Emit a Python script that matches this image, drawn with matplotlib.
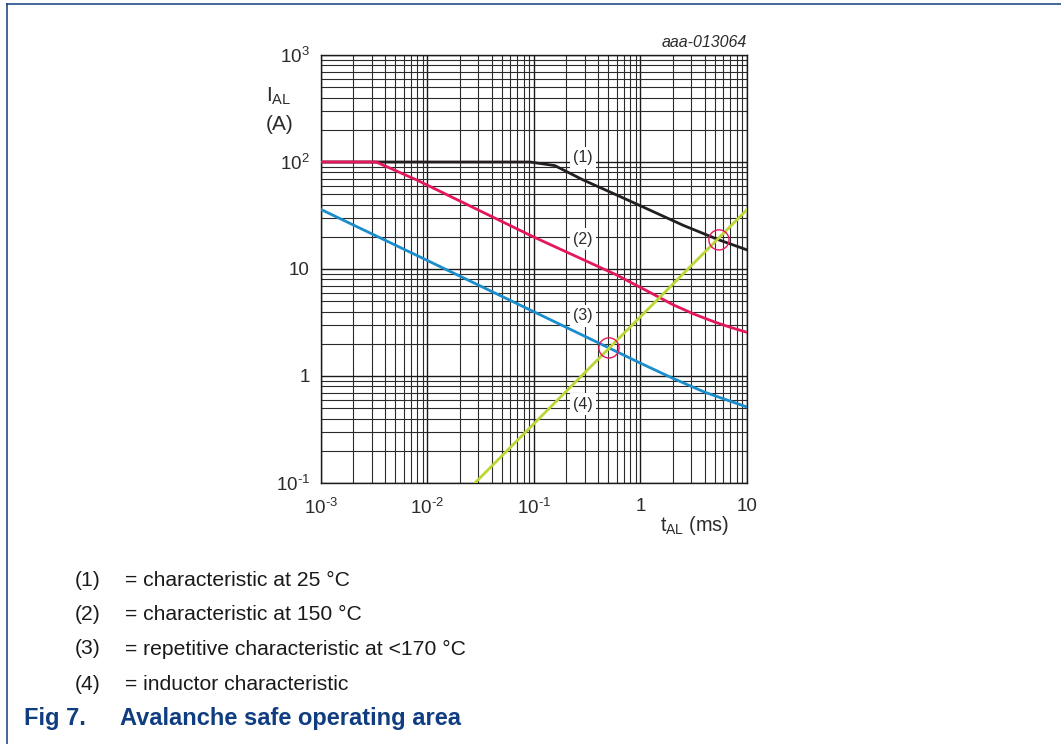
import numpy as np
import matplotlib
matplotlib.use('Agg')
from matplotlib import pyplot as plt
from matplotlib.lines import Line2D
from matplotlib.ticker import FixedLocator, LogLocator, NullFormatter

# avalanche current vs. time in avalanche
t_25 = [1e-3, 0.0917, 0.157, 0.290, 0.597, 1.227, 2.52, 5.46, 10.0]
i_25 = [100, 100, 92.5, 67.9, 49.2, 35.5, 25.6, 18.7, 15.1]

t_150 = [1e-3, 3.3e-3, 7.9e-3, 0.03, 0.0985, 0.597, 1.52, 2.0, 3.16, 5.0, 7.08, 10.0]
i_150 = [100, 100, 68, 35.6, 20, 8.8, 5.4, 4.66, 3.80, 3.19, 2.84, 2.56]

t_rep = [1e-3, 0.01, 0.506, 1.0, 2.0, 3.98, 10.0]
i_rep = [36, 12, 1.83, 1.318, 0.955, 0.708, 0.513]

t_ind = [0.0279, 10.0]
i_ind = [0.1, 35.8]

# operating points where the inductor line crosses the curves
t_op = [0.506, 5.46]
i_op = [1.83, 18.7]

curve_tags = ['(1)', '(2)', '(3)', '(4)']
tag_t = [0.288, 0.288, 0.288, 0.288]
tag_i = [109, 19, 3.64, 0.547]

legend_text = ['= characteristic at 25 \u00b0C',
               '= characteristic at 150 \u00b0C',
               '= repetitive characteristic at <170 \u00b0C',
               '= inductor characteristic']

xticks = [1e-3, 1e-2, 1e-1, 1, 10]
xlabels = ['10$^{\u20103}$', '10$^{\u20102}$', '10$^{\u20101}$', '1', '10']
yticks = [1e-1, 1, 10, 1e2, 1e3]
ylabels = ['10$^{\u20101}$', '1', '10', '10$^{2}$', '10$^{3}$']

plt.rcParams['font.family'] = ['Liberation Sans', 'DejaVu Sans']
plt.rcParams['mathtext.fontset'] = 'custom'
plt.rcParams['mathtext.rm'] = 'Liberation Sans'
plt.rcParams['mathtext.it'] = 'Liberation Sans:italic'
plt.rcParams['mathtext.default'] = 'rm'

navy = '#0f3d80'
txt = '#2b2b2b'
fs = 13.5

fig = plt.figure(figsize=(10.61, 7.44), dpi=100)
ax = fig.add_axes([0.3025, 0.3508, 0.4015, 0.5753])
ax.set_xscale('log')
ax.set_yscale('log')
ax.set_xlim(1e-3, 10)
ax.set_ylim(1e-1, 1e3)

ax.xaxis.set_major_locator(FixedLocator(xticks))
ax.yaxis.set_major_locator(FixedLocator(yticks))
ax.set_xticklabels(xlabels, fontsize=fs)
ax.set_yticklabels(ylabels, fontsize=fs)
ax.xaxis.set_minor_locator(LogLocator(base=10, subs=np.arange(2, 10)))
ax.yaxis.set_minor_locator(LogLocator(base=10, subs=np.arange(2, 10)))
ax.xaxis.set_minor_formatter(NullFormatter())
ax.yaxis.set_minor_formatter(NullFormatter())
ax.tick_params(which='both', length=0)
ax.tick_params(axis='x', pad=11, colors=txt)
ax.tick_params(axis='y', pad=8, colors=txt)

ax.grid(which='major', color='#1a1a1a', lw=1.0)
ax.grid(which='minor', color='#2a2a2a', lw=0.8)
ax.set_axisbelow(True)
for s in ax.spines.values():
    s.set_color('#1a1a1a')
    s.set_linewidth(1.0)

ax.plot(t_25, i_25, color='#231f20', lw=2, zorder=3)
ax.plot(t_150, i_150, color='#e5175c', lw=2, zorder=3)
ax.plot(t_rep, i_rep, color='#1a8dcc', lw=2, zorder=3)
ax.plot(t_ind, i_ind, color='#bcd633', lw=2, zorder=4)
ax.scatter(t_op, i_op, s=210, facecolors='none', edgecolors='#e5175c',
           linewidths=1.0, zorder=5)

for tag, tt, ii in zip(curve_tags, tag_t, tag_i):
    ax.text(tt, ii, tag, fontsize=11.5, color=txt, ha='center',
            va='center', zorder=6,
            bbox=dict(boxstyle='square,pad=0.2', fc='white', ec='none'))

ax.text(1.0, 1.012, 'aaa-013064', transform=ax.transAxes, ha='right',
        va='bottom', fontsize=11.5, style='italic', color=txt)
fig.text(0.2507, 1 - 86 / 744, 'I$_{\\mathrm{AL}}$', ha='left', va='top',
         fontsize=15, color=txt)
fig.text(0.2507, 1 - 124 / 744, '(A)', ha='left', va='center',
         fontsize=15, color=txt)
fig.text(0.622, 0.294, 't$_{\\mathrm{AL}}$ (ms)', ha='left', va='center',
         fontsize=14.3, color=txt)

# key below the chart
rows_y = [580, 614, 649, 684]
for tag, line, py in zip(curve_tags, legend_text, rows_y):
    fig.text(75 / 1061, 1 - py / 744, tag, ha='left', va='center',
             fontsize=15.2, color='#1a1a1a')
    fig.text(125 / 1061, 1 - py / 744, line, ha='left', va='center',
             fontsize=15.2, color='#1a1a1a')

fig.text(24 / 1061, 1 - 719 / 744, 'Fig 7.', ha='left', va='center',
         fontsize=17, weight='bold', color=navy)
fig.text(120 / 1061, 1 - 719 / 744, 'Avalanche safe operating area',
         ha='left', va='center', fontsize=17, weight='bold', color=navy)

# page frame
fig.add_artist(Line2D([7 / 1061, 1.0], [1 - 3.5 / 744, 1 - 3.5 / 744],
                      transform=fig.transFigure, color=navy, lw=1.1))
fig.add_artist(Line2D([7 / 1061, 7 / 1061], [1 - 3.5 / 744, 0.0],
                      transform=fig.transFigure, color=navy, lw=1.1))

fig.savefig('out.png', dpi=100)
